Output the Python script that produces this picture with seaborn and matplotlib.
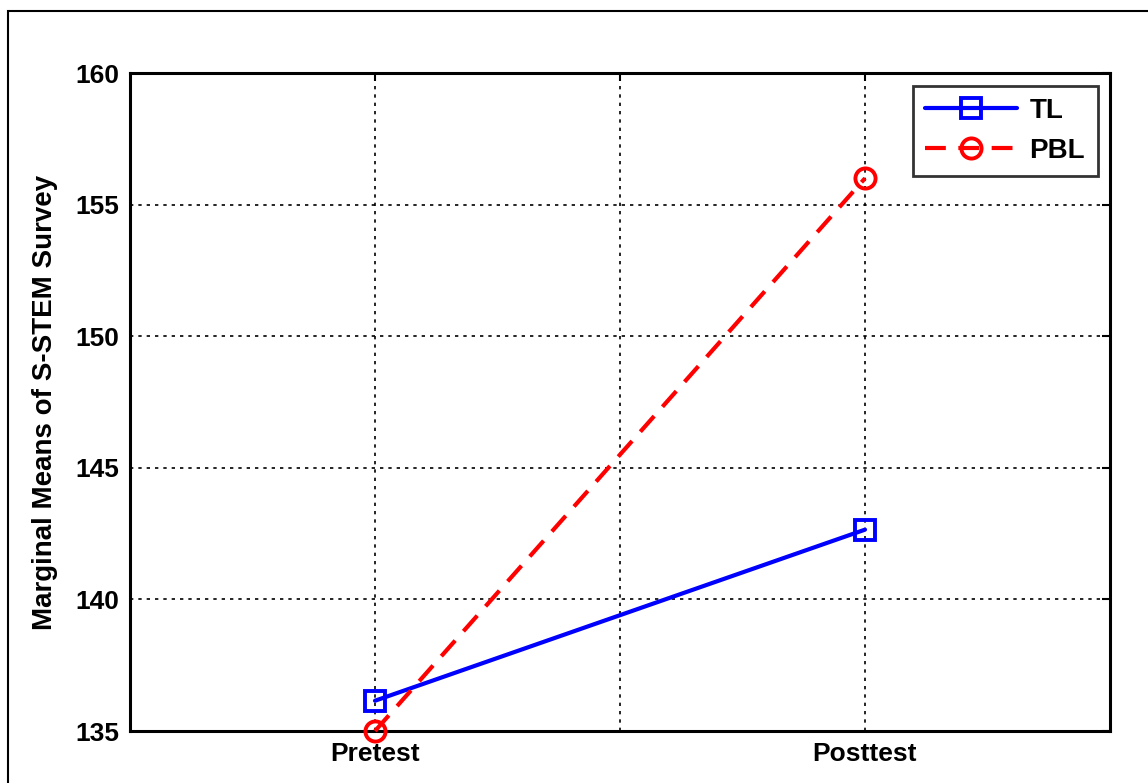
import numpy as np
import pandas as pd
import matplotlib
matplotlib.use("Agg")
import matplotlib.pyplot as plt
import seaborn as sns
from matplotlib.patches import Rectangle

# data
phases = ["Pretest", "Posttest"]
tl_means = [136.15, 142.65]
pbl_means = [135.0, 156.0]
y_ticks = [135, 140, 145, 150, 155, 160]

df = pd.DataFrame({
    "pos": [1, 2, 1, 2],
    "mean": tl_means + pbl_means,
    "group": ["TL", "TL", "PBL", "PBL"],
})

sns.set_style("white")
plt.rcParams["font.family"] = ["Liberation Sans", "DejaVu Sans"]
plt.rcParams["font.weight"] = "bold"
plt.rcParams["text.color"] = "black"
plt.rcParams["axes.labelcolor"] = "black"
plt.rcParams["xtick.color"] = "black"
plt.rcParams["ytick.color"] = "black"

fig = plt.figure(figsize=(11.48, 7.83), dpi=100)
ax = fig.add_axes([130 / 1148, 52 / 783, 980 / 1148, 658 / 783])

# outer frame of the figure (cropped on right/bottom)
fig.patches.append(Rectangle((8 / 1148, -0.1), 1.2, 0.1 + (783 - 11) / 783,
                             transform=fig.transFigure, fill=False,
                             edgecolor="black", linewidth=1.5, zorder=-1))

styles = {"TL": dict(color="blue", marker="s", ls="-"),
          "PBL": dict(color="red", marker="o", ls=(0, (5, 3)))}
for name, sub in df.groupby("group", sort=False):
    st = styles[name]
    sns.lineplot(data=sub, x="pos", y="mean", ax=ax, label=name,
                 color=st["color"], linestyle=st["ls"], linewidth=3,
                 marker=st["marker"], markersize=14.5, markerfacecolor="none",
                 markeredgecolor=st["color"], markeredgewidth=2.8,
                 zorder=3, clip_on=False)

ax.set_xlim(0.5, 2.5)
ax.set_ylim(135, 160)
ax.set_xticks([1, 1.5, 2])
ax.set_xticklabels([phases[0], "", phases[1]])
ax.set_yticks(y_ticks)
ax.tick_params(labelsize=19, direction="in", length=6, width=1.5,
               top=True, right=True, pad=8, colors="black")
for lbl in ax.get_xticklabels() + ax.get_yticklabels():
    lbl.set_fontweight("bold")
ax.grid(True, color="black", linestyle=(0, (2, 3)), linewidth=1.2)
for sp in ax.spines.values():
    sp.set_visible(True)
    sp.set_color("black")
    sp.set_linewidth(2.2)

ax.set_xlabel("")
ax.set_ylabel("Marginal Means of S-STEM Survey", fontsize=20, fontweight="bold",
              color="black", labelpad=12)

leg = ax.legend(loc="upper right", fontsize=20, frameon=True, fancybox=False,
                edgecolor="black", handlelength=3.3, handletextpad=0.45,
                borderaxespad=0.45, borderpad=0.45, labelspacing=0.5)
leg.get_frame().set_linewidth(2)
for t in leg.get_texts():
    t.set_fontweight("bold")
    t.set_color("black")

fig.savefig("out.png", dpi=100)
